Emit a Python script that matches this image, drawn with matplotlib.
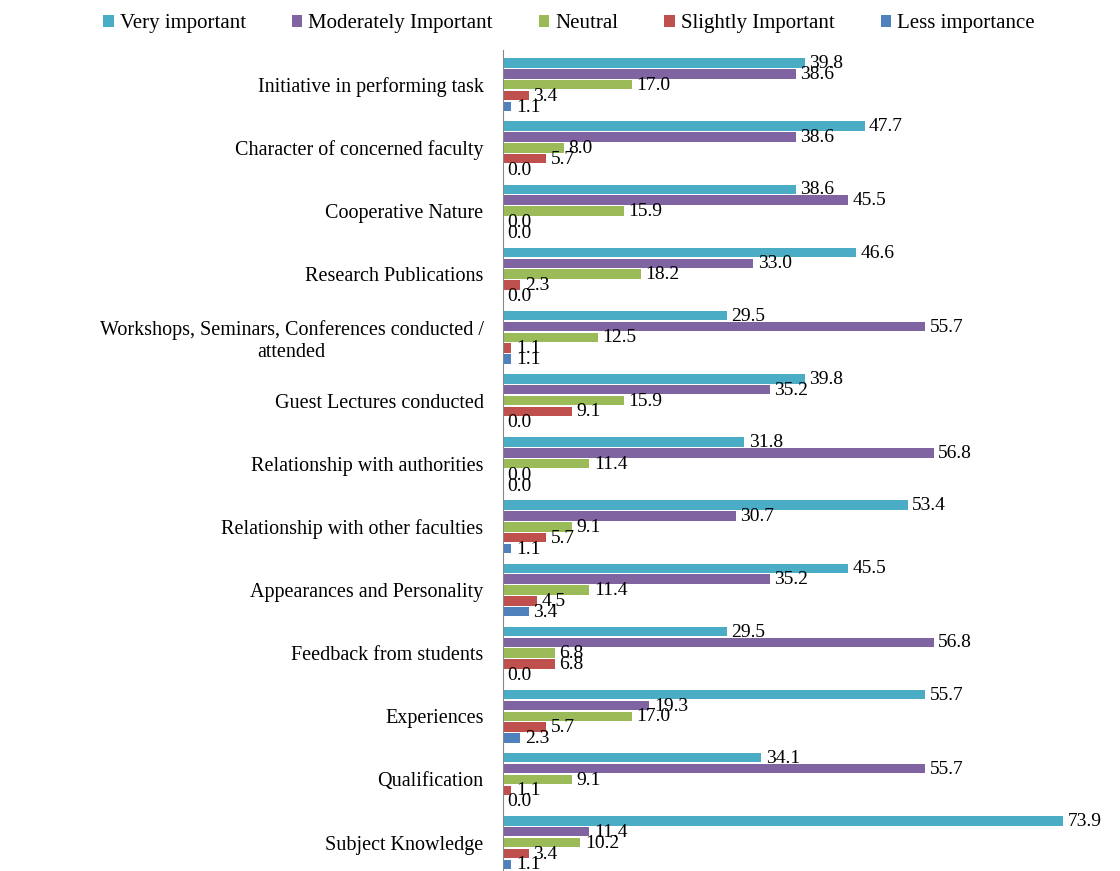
import numpy as np
import matplotlib.pyplot as plt

categories = ["Initiative in performing task", "Character of concerned faculty",
              "Cooperative Nature", "Research Publications",
              "Workshops, Seminars, Conferences conducted /\nattended",
              "Guest Lectures conducted", "Relationship with authorities",
              "Relationship with other faculties", "Appearances and Personality",
              "Feedback from students", "Experiences", "Qualification",
              "Subject Knowledge"]
series_names = ["Very important", "Moderately Important", "Neutral",
                "Slightly Important", "Less importance"]
very_important = [39.8, 47.7, 38.6, 46.6, 29.5, 39.8, 31.8, 53.4, 45.5, 29.5, 55.7, 34.1, 73.9]
moderately = [38.6, 38.6, 45.5, 33.0, 55.7, 35.2, 56.8, 30.7, 35.2, 56.8, 19.3, 55.7, 11.4]
neutral = [17.0, 8.0, 15.9, 18.2, 12.5, 15.9, 11.4, 9.1, 11.4, 6.8, 17.0, 9.1, 10.2]
slightly = [3.4, 5.7, 0.0, 2.3, 1.1, 9.1, 0.0, 5.7, 4.5, 6.8, 5.7, 1.1, 3.4]
less = [1.1, 0.0, 0.0, 0.0, 1.1, 0.0, 0.0, 1.1, 3.4, 0.0, 2.3, 0.0, 1.1]

colors = ["#4BACC6", "#8064A2", "#9BBB59", "#C0504D", "#4F81BD"]
all_series = [very_important, moderately, neutral, slightly, less]

plt.rcParams['font.family'] = ['Liberation Serif', 'DejaVu Serif']

fig = plt.figure(figsize=(11.2, 8.71), dpi=100)
ax = fig.add_axes([503 / 1120, 0, 1 - 503 / 1120, 1 - 50 / 871])

y = np.arange(len(categories))
step = 0.172
h = 0.15
for k, (name, vals, c) in enumerate(zip(series_names, all_series, colors)):
    pos = y + (k - 2) * step
    ax.barh(pos, vals, height=h, color=c, label=name)
    for p, v in zip(pos, vals):
        ax.text(v + 0.6, p + 0.01, f"{v:.1f}", fontsize=14, va='center', ha='left')

ax.set_ylim(12.45, -0.55)
ax.set_xlim(0, 81.4)
ax.set_yticks(y)
ax.set_yticklabels(categories, fontsize=14.5, ha='right', multialignment='center')
ax.tick_params(axis='y', length=0, pad=14)
ax.set_xticks([])
for s in ['top', 'right', 'bottom']:
    ax.spines[s].set_visible(False)
ax.spines['left'].set_color('#888888')

fig.legend(loc='upper center', bbox_to_anchor=(0.508, 1.005), ncol=5, frameon=False,
           fontsize=15, handlelength=0.5, handleheight=0.5, handletextpad=0.3,
           columnspacing=2.2)

fig.savefig("out.png", dpi=100)
